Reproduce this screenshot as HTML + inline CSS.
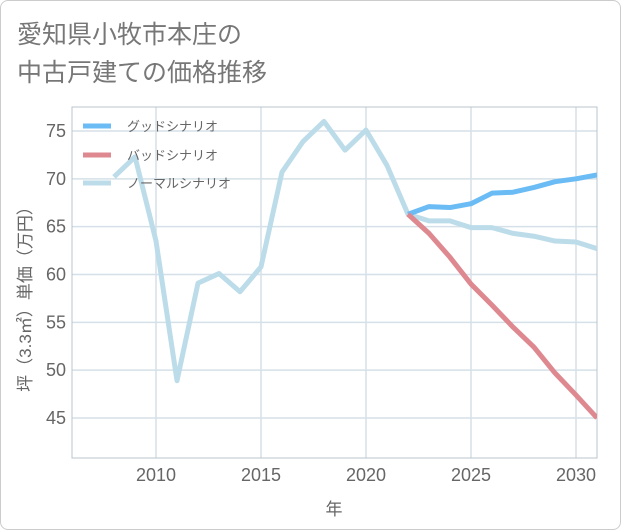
<!DOCTYPE html>
<html><head><meta charset="utf-8"><style>
body{margin:0;background:#fff;}
#wrap{position:relative;width:619px;height:528px;border:1px solid #ccc;border-radius:8px;background:#fff;overflow:hidden;font-family:"Liberation Sans","Noto Sans CJK JP",sans-serif;}
.title{position:absolute;left:16px;font-size:25px;color:#777;}
</style></head><body>
<div id="wrap">
<div class="title" style="top:14px">愛知県小牧市本庄の</div>
<div class="title" style="top:52px">中古戸建ての価格推移</div>
<svg id="chart" width="621" height="530" style="position:absolute;left:-1px;top:-1px"></svg>
</div>
<script>
const years=[2008,2009,2010,2011,2012,2013,2014,2015,2016,2017,2018,2019,2020,2021,2022,2023,2024,2025,2026,2027,2028,2029,2030,2031];
const normal=[70.2,72.3,63.5,48.9,59.1,60.1,58.2,60.8,70.7,73.9,76.0,73.0,75.1,71.4,66.3,65.6,65.6,64.9,64.9,64.3,64.0,63.5,63.4,62.7];
const goodYears=[2022,2023,2024,2025,2026,2027,2028,2029,2030,2031];
const good=[66.3,67.1,67.0,67.4,68.5,68.6,69.1,69.7,70.0,70.4];
const bad=[66.3,64.3,61.8,59.0,56.8,54.5,52.4,49.7,47.4,45.0];
const xTicks=[2010,2015,2020,2025,2030];
const yTicks=[45,50,55,60,65,70,75];
const NS="http://www.w3.org/2000/svg";
const svg=document.getElementById('chart');
const L=72,R=597,T=107,B=458;
const x=v=>L+(v-2006)*(R-L)/25;
const y=v=>131+(75-v)*(418-131)/30;
function mk(t,a){const e=document.createElementNS(NS,t);for(const k in a)e.setAttribute(k,a[k]);svg.appendChild(e);return e;}
const clip=mk('clipPath',{id:'pc'});
const cr=document.createElementNS(NS,'rect');cr.setAttribute('x',L);cr.setAttribute('y',T);cr.setAttribute('width',R-L);cr.setAttribute('height',B-T);clip.appendChild(cr);
for(const t of xTicks){
 const g=mk('line',{x1:x(t),x2:x(t),y1:T,y2:B,stroke:'#d5e0e8','stroke-width':1.5});
 
 
 const tx=mk('text',{x:x(t),y:481,'text-anchor':'middle','font-size':18,fill:'#666'});tx.textContent=t;
 
 
}
for(const t of yTicks){
 const g=mk('line',{x1:L,x2:R,y1:y(t),y2:y(t),stroke:'#d5e0e8','stroke-width':1.5});
 
 
 const tx=mk('text',{x:66,y:y(t)+6,'text-anchor':'end','font-size':18,fill:'#666'});tx.textContent=t;
 
 
}
const fr=mk('rect',{x:L,y:T,width:R-L,height:B-T,fill:'none',stroke:'#b8c4cc','stroke-width':1});


function line(xs,ys,c,name){
 const p=mk('polyline',{points:xs.map((v,i)=>x(v)+','+y(ys[i])).join(' '),fill:'none',stroke:c,'stroke-width':5,'stroke-linejoin':'round','clip-path':'url(#pc)'});
 
 
}
line(years,normal,'#bcdcea','normal-scenario-line');
line(goodYears,good,'#6bbcf4','good-scenario-line');
line(goodYears,bad,'#de8890','bad-scenario-line');
const leg=[['グッドシナリオ','#6bbcf4',126],['バッドシナリオ','#de8890',155],['ノーマルシナリオ','#bcdcea',183]];
for(const [n,c,yy] of leg){
 const l=mk('line',{x1:83,x2:111,y1:yy,y2:yy,stroke:c,'stroke-width':5});
 
 
 const t=mk('text',{x:127,y:yy+5,'font-size':13,fill:'#666'});t.textContent=n;
 
 
}
const xt=mk('text',{x:334,y:515,'text-anchor':'middle','font-size':17,fill:'#666'});xt.textContent='年';


const yt=mk('text',{x:0,y:0,'text-anchor':'middle','font-size':17,fill:'#666',transform:'translate(31,295) rotate(-90)'});yt.textContent='坪（3.3㎡）単価（万円）';


</script>
</body></html>
